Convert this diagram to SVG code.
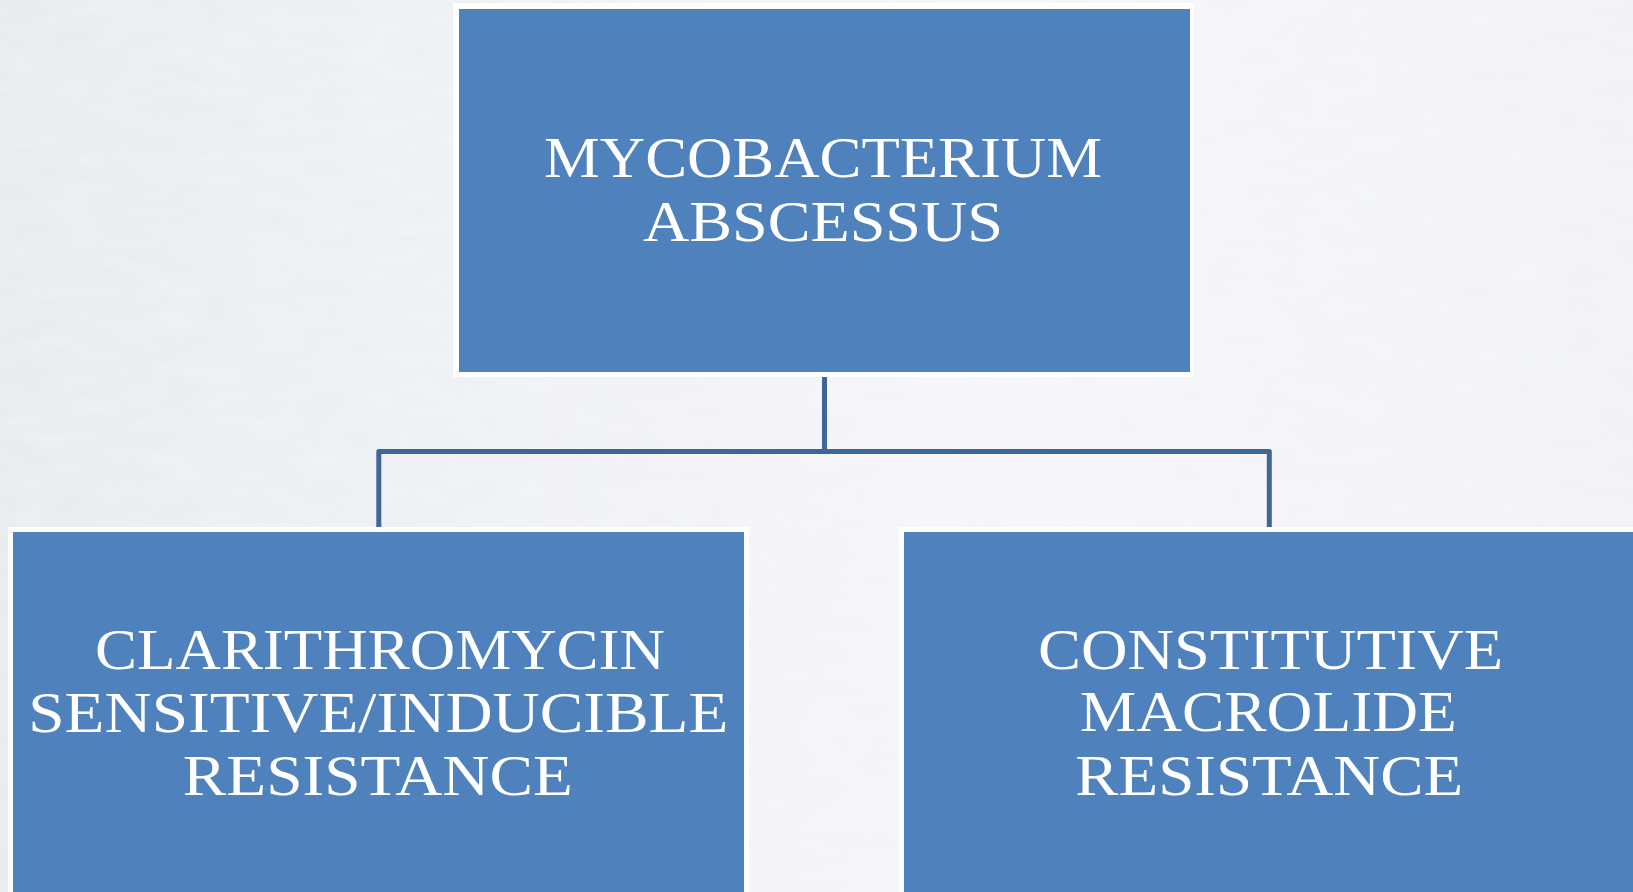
<svg xmlns="http://www.w3.org/2000/svg" width="1633" height="892" viewBox="0 0 1633 892">
  <defs>
    <linearGradient id="bg" x1="0" y1="0" x2="1" y2="0">
      <stop offset="0" stop-color="#E7EAEE"/>
      <stop offset="0.3" stop-color="#EEF0F4"/>
      <stop offset="0.6" stop-color="#F5F5FA"/>
      <stop offset="1" stop-color="#F1F2F6"/>
    </linearGradient>
    <filter id="noise" x="0" y="0" width="100%" height="100%">
      <feTurbulence type="fractalNoise" baseFrequency="0.02 0.06" numOctaves="3" seed="4"/>
      <feColorMatrix type="matrix" values="0 0 0 0 1  0 0 0 0 1  0 0 0 0 1  0 0 0 0.35 -0.05"/>
    </filter>
  </defs>
  <style>
    .frame { fill: #FFFFFF; }
    .box { fill: #4F81BD; }
    .label { font-family: "Liberation Serif", "Times New Roman", serif; font-size: 57px; fill: #FFFFFF; text-anchor: middle; }
    .conn { fill: none; stroke: #3E6698; stroke-width: 5; stroke-linejoin: round; stroke-linecap: butt; }
  </style>
  <rect x="0" y="0" width="1633" height="892" fill="url(#bg)"/>
  <rect x="0" y="0" width="1633" height="892" filter="url(#noise)"/>

  <g id="connectors">
    <path class="conn" d="M824.5,376 V451.5"/>
    <path class="conn" d="M378.8,528 V451.5 H1269.3 V528"/>
  </g>

  <g id="node-top">
    <rect class="frame" x="453" y="3" width="741" height="374"/>
    <rect class="box" x="459" y="9" width="731" height="363"/>
    <text class="label" x="823" y="177.3" textLength="558" lengthAdjust="spacingAndGlyphs">MYCOBACTERIUM</text>
    <text class="label" x="823" y="240.7" textLength="360" lengthAdjust="spacingAndGlyphs">ABSCESSUS</text>
  </g>

  <g id="node-left">
    <rect class="frame" x="8" y="527" width="741" height="380"/>
    <rect class="box" x="13" y="532" width="731" height="380"/>
    <text class="label" x="380" y="669.3" textLength="570" lengthAdjust="spacingAndGlyphs">CLARITHROMYCIN</text>
    <text class="label" x="378.3" y="731.7" textLength="700" lengthAdjust="spacingAndGlyphs">SENSITIVE/INDUCIBLE</text>
    <text class="label" x="377.8" y="795" textLength="390" lengthAdjust="spacingAndGlyphs">RESISTANCE</text>
  </g>

  <g id="node-right">
    <rect class="frame" x="899" y="527" width="760" height="380"/>
    <rect class="box" x="904" y="532" width="760" height="380"/>
    <text class="label" x="1270.5" y="669.3" textLength="465" lengthAdjust="spacingAndGlyphs">CONSTITUTIVE</text>
    <text class="label" x="1268.3" y="730.7" textLength="377" lengthAdjust="spacingAndGlyphs">MACROLIDE</text>
    <text class="label" x="1269.2" y="795" textLength="388" lengthAdjust="spacingAndGlyphs">RESISTANCE</text>
  </g>
</svg>
